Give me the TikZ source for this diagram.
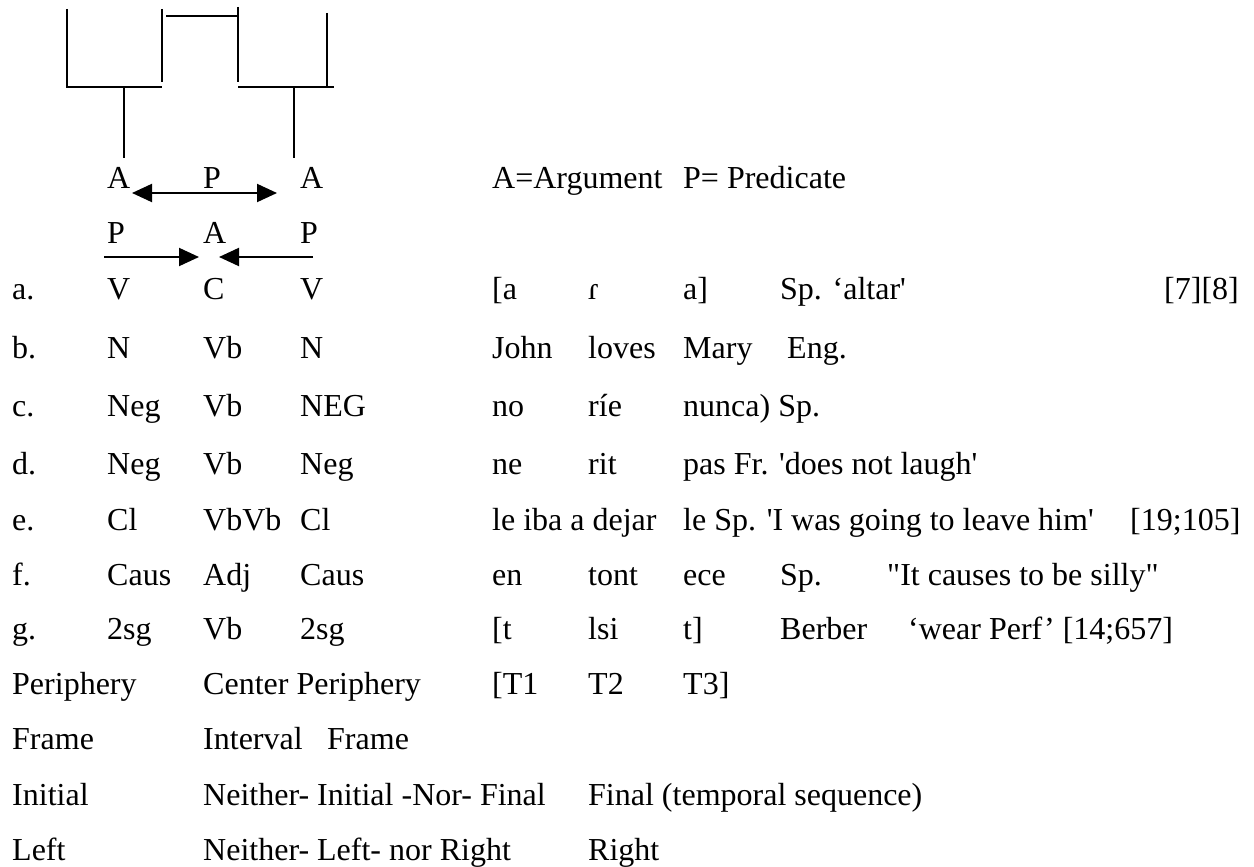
\documentclass[tikz,border=0pt]{standalone}
\usepackage{fontspec}
\newfontfamily\tnr{Liberation Serif}
\usetikzlibrary{arrows.meta}
\begin{document}
\begin{tikzpicture}[x=1pt,y=-1pt,
  txt/.style={anchor=base west,inner sep=0pt,font=\tnr\fontsize{32}{38}\selectfont},
  ln/.style={line width=2pt},
  hd/.style={line width=2pt,-{Triangle[length=20pt,width=18pt]}},
  dbl/.style={line width=2pt,{Triangle[length=20pt,width=18pt]}-{Triangle[length=20pt,width=18pt]}}]
\useasboundingbox (0,0) rectangle (1254,867);
% bracket structure
\draw[ln] (67,9) -- (67,87) -- (162,87);
\draw[ln] (162,9) -- (162,82);
\draw[ln] (166,16) -- (238,16);
\draw[ln] (238,7) -- (238,82);
\draw[ln] (238,87) -- (334,87);
\draw[ln] (327,13) -- (327,87);
\draw[ln] (124,87) -- (124,158);
\draw[ln] (294,87) -- (294,158);
% A P A
\node[txt] (a1) at (107,188) {A};
\node[txt] (p1) at (203,188) {P};
\node[txt] (a2) at (300,188) {A};
\node[txt] (legA) at (492,188) {A=Argument};
\node[txt] (legP) at (683,188) {P= Predicate};
\coordinate (dl) at (132,193);
\coordinate (dr) at (277,193);
\draw[dbl] (dl) -- (dr);
% P A P
\node[txt] (p2) at (107,243) {P};
\node[txt] (a3) at (203,243) {A};
\node[txt] (p3) at (300,243) {P};
\coordinate (l1) at (104,257);
\coordinate (l2) at (199,257);
\coordinate (r1) at (313,257);
\coordinate (r2) at (219,257);
\draw[hd] (l1) -- (l2);
\draw[hd] (r1) -- (r2);
% row a
\node[txt] (ra0) at (12,299) {a.};
\node[txt] (ra1) at (107,299) {V};
\node[txt] (ra2) at (203,299) {C};
\node[txt] (ra3) at (300,299) {V};
\node[txt] (ra4) at (492,299) {[a};
\node[txt] (ra5) at (588,299) {ɾ};
\node[txt] (ra6) at (683,299) {a]};
\node[txt] (ra7) at (780,299) {Sp. ‘altar'};
\node[txt] (ra8) at (1164,299) {[7][8]};
% row b
\node[txt] (rb0) at (12,358) {b.};
\node[txt] (rb1) at (107,358) {N};
\node[txt] (rb2) at (203,358) {Vb};
\node[txt] (rb3) at (300,358) {N};
\node[txt] (rb4) at (492,358) {John};
\node[txt] (rb5) at (588,358) {loves};
\node[txt] (rb6) at (683,358) {Mary};
\node[txt] (rb7) at (787,358) {Eng.};
% row c
\node[txt] (rc0) at (12,416) {c.};
\node[txt] (rc1) at (107,416) {Neg};
\node[txt] (rc2) at (203,416) {Vb};
\node[txt] (rc3) at (300,416) {NEG};
\node[txt] (rc4) at (492,416) {no};
\node[txt] (rc5) at (588,416) {ríe};
\node[txt] (rc6) at (683,416) {nunca) Sp.};
% row d
\node[txt] (rd0) at (12,474) {d.};
\node[txt] (rd1) at (107,474) {Neg};
\node[txt] (rd2) at (203,474) {Vb};
\node[txt] (rd3) at (300,474) {Neg};
\node[txt] (rd4) at (492,474) {ne};
\node[txt] (rd5) at (588,474) {rit};
\node[txt] (rd6) at (683,474) {pas Fr. 'does not laugh'};
% row e
\node[txt] (re0) at (12,530) {e.};
\node[txt] (re1) at (107,530) {Cl};
\node[txt] (re2) at (203,530) {VbVb};
\node[txt] (re3) at (300,530) {Cl};
\node[txt] (re4) at (492,530) {le iba a dejar};
\node[txt] (re5) at (683,530) {le Sp. 'I was going to leave him'};
\node[txt] (re6) at (1130,530) {[19;105]};
% row f
\node[txt] (rf0) at (12,585) {f.};
\node[txt] (rf1) at (107,585) {Caus};
\node[txt] (rf2) at (203,585) {Adj};
\node[txt] (rf3) at (300,585) {Caus};
\node[txt] (rf4) at (492,585) {en};
\node[txt] (rf5) at (588,585) {tont};
\node[txt] (rf6) at (683,585) {ece};
\node[txt] (rf7) at (780,585) {Sp.};
\node[txt] (rf8) at (887,585) {"It causes to be silly"};
% row g
\node[txt] (rg0) at (12,639) {g.};
\node[txt] (rg1) at (107,639) {2sg};
\node[txt] (rg2) at (203,639) {Vb};
\node[txt] (rg3) at (300,639) {2sg};
\node[txt] (rg4) at (492,639) {[t};
\node[txt] (rg5) at (588,639) {lsi};
\node[txt] (rg6) at (683,639) {t]};
\node[txt] (rg7) at (780,639) {Berber};
\node[txt] (rg8) at (908,639) {‘wear Perf’ [14;657]};
% Periphery
\node[txt] (rp0) at (12,694) {Periphery};
\node[txt] (rp1) at (203,694) {Center Periphery};
\node[txt] (rp2) at (492,694) {[T1};
\node[txt] (rp3) at (588,694) {T2};
\node[txt] (rp4) at (683,694) {T3]};
% Frame
\node[txt] (rr0) at (12,749) {Frame};
\node[txt] (rr1) at (203,749) {Interval};
\node[txt] (rr2) at (327,749) {Frame};
% Initial
\node[txt] (ri0) at (12,805) {Initial};
\node[txt] (ri1) at (203,805) {Neither- Initial -Nor- Final};
\node[txt] (ri2) at (588,805) {Final (temporal sequence)};
% Left
\node[txt] (rl0) at (12,860) {Left};
\node[txt] (rl1) at (203,860) {Neither- Left- nor Right};
\node[txt] (rl2) at (588,860) {Right};
\end{tikzpicture}
\end{document}
